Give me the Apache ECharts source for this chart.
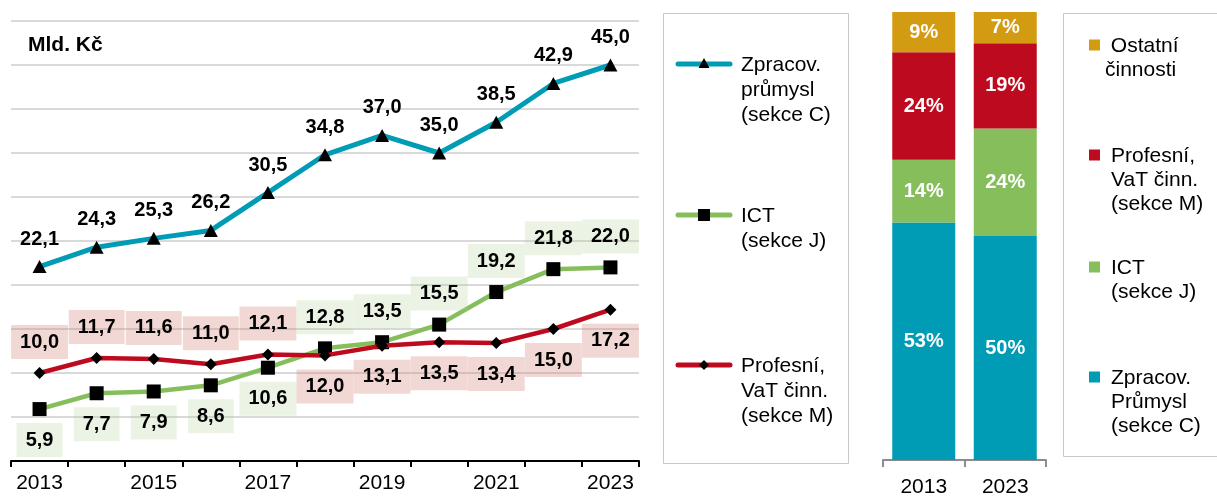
<!DOCTYPE html>
<html><head><meta charset="utf-8">
<script src="https://cdn.jsdelivr.net/npm/echarts@6/dist/echarts.min.js"></script>
<style>html,body{margin:0;padding:0;background:#fff}#c{width:1217px;height:498px}</style>
</head><body><div id="c"></div>
<script>
const years = ['2013','2014','2015','2016','2017','2018','2019','2020','2021','2022','2023'];
const zpracov = [22.1, 24.3, 25.3, 26.2, 30.5, 34.8, 37.0, 35.0, 38.5, 42.9, 45.0];
const ict = [5.9, 7.7, 7.9, 8.6, 10.6, 12.8, 13.5, 15.5, 19.2, 21.8, 22.0];
const profesni = [10.0, 11.7, 11.6, 11.0, 12.1, 12.0, 13.1, 13.5, 13.4, 15.0, 17.2];

const barYears = ['2013', '2023'];
const barZpracov = [53, 50];
const barIct = [14, 24];
const barProfesni = [24, 19];
const barOstatni = [9, 7];

const FONT = "'Liberation Sans', Arial, sans-serif";
const TEAL = '#009BB4', GREEN = '#86BE5C', RED = '#BE0A1E', GOLD = '#D39B12';
const fmt = p => p.value.toFixed(1).replace('.', ',');

const lblBase = { show: true, fontFamily: FONT, fontSize: 20, fontWeight: 'bold', color: '#000', lineHeight: 20, formatter: fmt };

function withPos(arr, posFn) {
  return arr.map((v, i) => ({ value: v, label: { position: posFn(i) } }));
}

const chart = echarts.init(document.getElementById('c'), null, { renderer: 'canvas' });

const legendLines = [
  { y: 64, color: TEAL, lines: 'Zpracov.\nprůmysl\n(sekce C)', mk: 'tri' },
  { y: 215, color: GREEN, lines: 'ICT\n(sekce J)', mk: 'sq' },
  { y: 365, color: RED, lines: 'Profesní,\nVaT činn.\n(sekce M)', mk: 'dia' }
];
const graphic = [];
graphic.push({ type: 'rect', shape: { x: 663.5, y: 13.5, width: 185, height: 450 }, style: { fill: 'none', stroke: '#c8c8c8', lineWidth: 1 } });
legendLines.forEach(it => {
  graphic.push({ type: 'line', shape: { x1: 678, y1: it.y, x2: 730, y2: it.y }, style: { stroke: it.color, lineWidth: 5, lineCap: 'round' } });
  let m;
  if (it.mk === 'tri') m = { type: 'polygon', shape: { points: [[704, it.y - 6], [709.5, it.y + 4], [698.5, it.y + 4]] }, style: { fill: '#000' } };
  else if (it.mk === 'sq') m = { type: 'rect', shape: { x: 698, y: it.y - 6, width: 12, height: 12 }, style: { fill: '#000' } };
  else m = { type: 'polygon', shape: { points: [[704, it.y - 5], [709, it.y], [704, it.y + 5], [699, it.y]] }, style: { fill: '#000' } };
  graphic.push(m);
  graphic.push({ type: 'text', x: 741, y: it.y + 1 - 12.5, style: { text: it.lines, font: '21px ' + FONT, fill: '#000', lineHeight: 25, verticalAlign: 'top' } });
});
// bar legend
graphic.push({ type: 'rect', shape: { x: 1063.5, y: 13.5, width: 200, height: 443 }, style: { fill: 'none', stroke: '#c8c8c8', lineWidth: 1 } });
const legendBars = [
  { y: 45, color: GOLD, lines: ' Ostatní\nčinnosti', x: 1105 },
  { y: 155, color: RED, lines: 'Profesní,\nVaT činn.\n(sekce M)', x: 1111 },
  { y: 267, color: GREEN, lines: 'ICT\n(sekce J)', x: 1111 },
  { y: 377, color: TEAL, lines: 'Zpracov.\nPrůmysl\n(sekce C)', x: 1111 }
];
legendBars.forEach(it => {
  graphic.push({ type: 'rect', shape: { x: 1089, y: it.y - 5.5, width: 11, height: 11 }, style: { fill: it.color } });
  graphic.push({ type: 'text', x: it.x, y: it.y + 1 - 12, style: { text: it.lines, font: '21px ' + FONT, fill: '#000', lineHeight: 24, verticalAlign: 'top' } });
});
graphic.push({ type: 'text', x: 28, y: 45, style: { text: 'Mld. Kč', font: 'bold 21px ' + FONT, fill: '#000', verticalAlign: 'middle' } });

chart.setOption({
  animation: false,
  backgroundColor: '#fff',
  textStyle: { fontFamily: FONT },
  graphic: graphic,
  grid: [
    { left: 11, right: 578, top: 21, bottom: 37, containLabel: false },
    { left: 883, width: 163, top: 12, bottom: 35, containLabel: false }
  ],
  xAxis: [
    {
      type: 'category', gridIndex: 0, data: years, boundaryGap: true,
      axisLine: { lineStyle: { color: '#000', width: 2 } },
      axisTick: { show: true, interval: 0, length: 6, lineStyle: { color: '#000', width: 2 } },
      axisLabel: { interval: 1, color: '#000', fontSize: 21, fontFamily: FONT, margin: 12 },
      splitLine: { show: false }
    },
    {
      type: 'category', gridIndex: 1, data: barYears, boundaryGap: true,
      axisLine: { lineStyle: { color: '#8c8c8c', width: 2 } },
      axisTick: { show: true, interval: 0, length: 7, lineStyle: { color: '#8c8c8c', width: 2 } },
      axisLabel: { color: '#000', fontSize: 21, fontFamily: FONT, margin: 17 }
    }
  ],
  yAxis: [
    {
      type: 'value', gridIndex: 0, min: 0, max: 50, interval: 5,
      axisLine: { show: false }, axisTick: { show: false }, axisLabel: { show: false },
      splitLine: { show: true, lineStyle: { color: '#d9d9d9', width: 2 } }
    },
    {
      type: 'value', gridIndex: 1, min: 0, max: 100,
      axisLine: { show: false }, axisTick: { show: false }, axisLabel: { show: false },
      splitLine: { show: false }
    }
  ],
  series: [
    {
      name: 'Zpracov. průmysl (sekce C)', type: 'line', xAxisIndex: 0, yAxisIndex: 0, data: zpracov,
      lineStyle: { color: TEAL, width: 5 }, itemStyle: { color: '#000' },
      symbol: 'triangle', symbolSize: [14, 13], showAllSymbol: true,
      label: Object.assign({}, lblBase, { position: 'top', distance: 11 }), z: 3
    },
    {
      name: 'ICT (sekce J)', type: 'line', xAxisIndex: 0, yAxisIndex: 0,
      data: withPos(ict, i => i < 5 ? 'bottom' : 'top'),
      lineStyle: { color: GREEN, width: 4.5 }, itemStyle: { color: '#000' },
      symbol: 'rect', symbolSize: 14, showAllSymbol: true,
      label: Object.assign({}, lblBase, { backgroundColor: 'rgba(175,207,147,0.25)', padding: [7, 9], distance: 7 }), z: 4
    },
    {
      name: 'Profesní, VaT činn. (sekce M)', type: 'line', xAxisIndex: 0, yAxisIndex: 0,
      data: withPos(profesni, i => i < 5 ? 'top' : 'bottom'),
      lineStyle: { color: RED, width: 4.5 }, itemStyle: { color: '#000' },
      symbol: 'diamond', symbolSize: 12, showAllSymbol: true,
      label: Object.assign({}, lblBase, { backgroundColor: 'rgba(212,125,112,0.3)', padding: [7, 9], distance: 8 }), z: 5
    },
    ...[
      ['Zpracov. Průmysl (sekce C)', barZpracov, TEAL],
      ['ICT (sekce J)', barIct, GREEN],
      ['Profesní, VaT činn. (sekce M)', barProfesni, RED],
      ['Ostatní činnosti', barOstatni, GOLD]
    ].map(([name, data, color]) => ({
      name: name + ' ', type: 'bar', stack: 'share', xAxisIndex: 1, yAxisIndex: 1, data: data,
      barWidth: 63, itemStyle: { color: color },
      label: { show: true, position: 'inside', color: '#fff', fontFamily: FONT, fontSize: 20, fontWeight: 'bold', formatter: '{c}%' }
    }))
  ]
});
</script>
</body></html>
